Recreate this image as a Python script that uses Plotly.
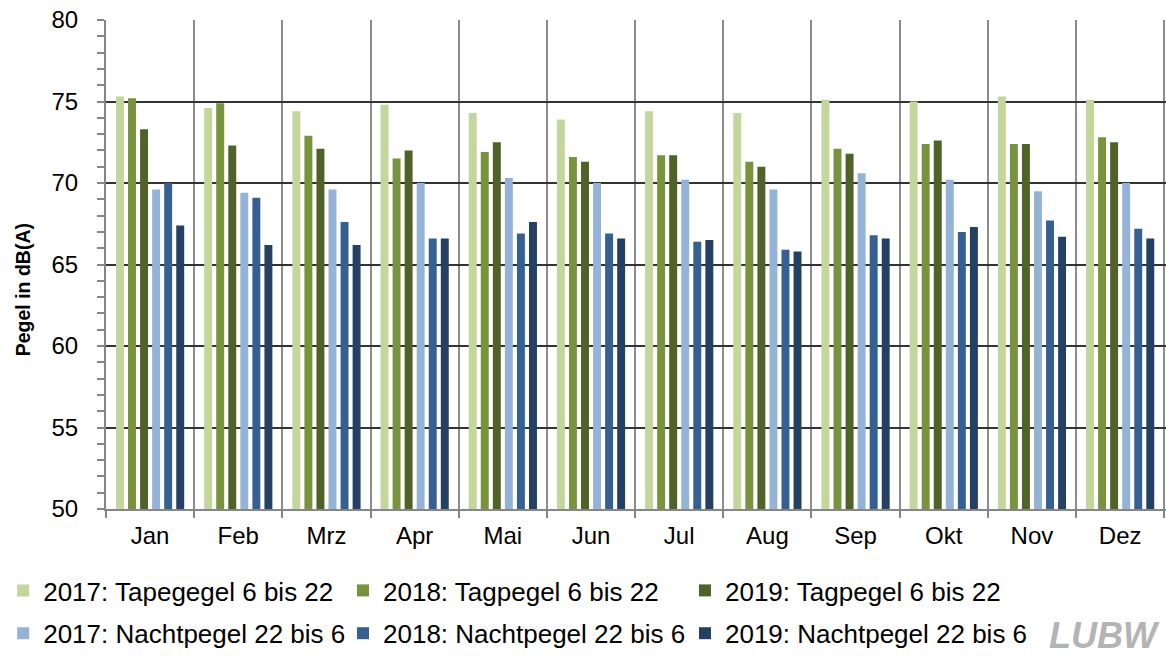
import plotly.graph_objects as go

months = ["Jan", "Feb", "Mrz", "Apr", "Mai", "Jun", "Jul", "Aug", "Sep", "Okt", "Nov", "Dez"]

tag_2017 = [75.3, 74.6, 74.4, 74.8, 74.3, 73.9, 74.4, 74.3, 75.1, 75.0, 75.3, 75.1]
tag_2018 = [75.2, 74.9, 72.9, 71.5, 71.9, 71.6, 71.7, 71.3, 72.1, 72.4, 72.4, 72.8]
tag_2019 = [73.3, 72.3, 72.1, 72.0, 72.5, 71.3, 71.7, 71.0, 71.8, 72.6, 72.4, 72.5]
nacht_2017 = [69.6, 69.4, 69.6, 70.0, 70.3, 70.0, 70.2, 69.6, 70.6, 70.2, 69.5, 70.0]
nacht_2018 = [70.0, 69.1, 67.6, 66.6, 66.9, 66.9, 66.4, 65.9, 66.8, 67.0, 67.7, 67.2]
nacht_2019 = [67.4, 66.2, 66.2, 66.6, 67.6, 66.6, 66.5, 65.8, 66.6, 67.3, 66.7, 66.6]

series_names = [
    "2017: Tapegegel 6 bis 22",
    "2018: Tagpegel 6 bis 22",
    "2019: Tagpegel 6 bis 22",
    "2017: Nachtpegel 22 bis 6",
    "2018: Nachtpegel 22 bis 6",
    "2019: Nachtpegel 22 bis 6",
]
series_values = [tag_2017, tag_2018, tag_2019, nacht_2017, nacht_2018, nacht_2019]
colors = ["#c3d69b", "#77933c", "#4f6228", "#95b3d7", "#366092", "#244062"]
legend_ids = ["legend", "legend2", "legend3", "legend", "legend2", "legend3"]

y_title = "Pegel in dB(A)"

FONT = "Liberation Sans, Arial, sans-serif"

fig = go.Figure()
for i, (name, vals, col, lg) in enumerate(zip(series_names, series_values, colors, legend_ids)):
    fig.add_trace(go.Bar(
        x=months, y=vals, name=name,
        marker=dict(color=col, line=dict(width=0)),
        legend=lg, legendgroup=f"g{i}",
    ))

leg_common = dict(
    orientation="v", xanchor="left", yanchor="top",
    font=dict(family=FONT, size=26, color="#000000"),
    bgcolor="rgba(0,0,0,0)", borderwidth=0, tracegroupgap=6,
    itemclick=False, itemdoubleclick=False,
)
y_leg = -0.118
fig.update_layout(
    width=1166, height=657,
    margin=dict(l=106, r=0, t=20, b=147),
    paper_bgcolor="white", plot_bgcolor="white",
    barmode="group", bargap=0.18, bargroupgap=0.34,
    font=dict(family=FONT, size=22, color="#000000"),
    legend=dict(x=-0.097, y=y_leg, **leg_common),
    legend2=dict(x=0.2236, y=y_leg, **leg_common),
    legend3=dict(x=0.5462, y=y_leg, **leg_common),
    showlegend=True,
    xaxis=dict(
        type="category", tickson="boundaries", range=[-0.5, 11.52],
        showgrid=True, gridcolor="#8c8c8c", gridwidth=2,
        showline=True, linecolor="#868686", linewidth=2,
        ticks="outside", ticklen=7, tickcolor="#868686", tickwidth=2,
        tickfont=dict(family=FONT, size=24, color="#000000"),
        ticklabelstandoff=4, automargin=False,
    ),
    yaxis=dict(
        range=[50, 80], dtick=5, tick0=50,
        showgrid=True, gridcolor="#333333", gridwidth=1.5,
        showline=True, linecolor="#868686", linewidth=2,
        ticks="outside", ticklen=7, tickcolor="#868686", tickwidth=2,
        minor=dict(dtick=1, ticks="outside", ticklen=7, tickcolor="#868686", tickwidth=2, showgrid=False),
        tickfont=dict(family=FONT, size=24, color="#000000"),
        ticklabelstandoff=14,
        zeroline=False, automargin=False,
    ),
)

# y-axis title (placed like the original, slightly below the axis centre)
fig.add_annotation(
    text=f"<b>{y_title}</b>", xref="paper", yref="paper",
    x=-0.078, y=0.448, xanchor="center", yanchor="middle", textangle=-90,
    showarrow=False, font=dict(family=FONT, size=19.5, color="#000000"),
)

fig.add_annotation(
    text="<b><i>LUBW</i></b>", xref="paper", yref="paper",
    x=0.996, y=-0.258, xanchor="right", yanchor="middle", showarrow=False,
    font=dict(family="Liberation Sans, Arial", size=36, color="#b4b4b4"),
)

fig.write_html("out.html", config={"displayModeBar": False},
               post_script="document.body.style.margin='0px';")
